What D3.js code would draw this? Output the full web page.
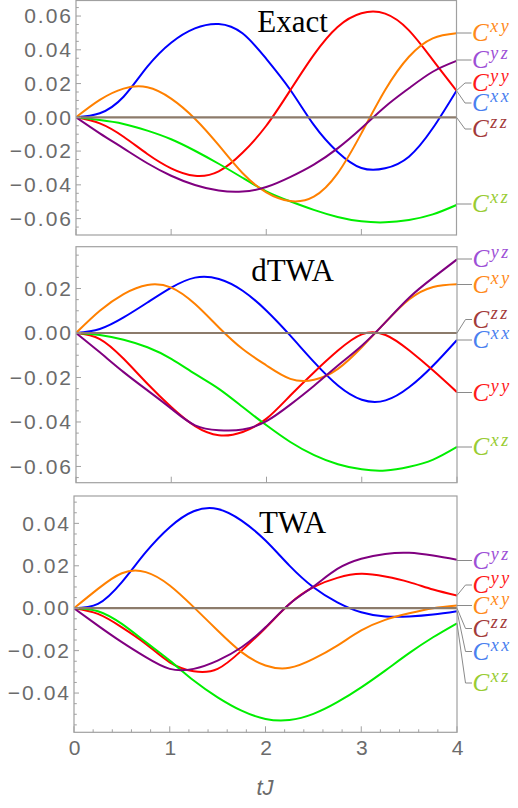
<!DOCTYPE html>
<html><head><meta charset="utf-8">
<script src="https://cdn.jsdelivr.net/npm/d3@7"></script>
<style>html,body{margin:0;padding:0;background:#fff;}svg{display:block;}</style>
</head><body>
<svg id="chart" width="518" height="808"></svg>
<script>
// ---------------- DATA ----------------
const tJ = [0,0.25,0.5,0.75,1,1.25,1.5,1.75,2,2.25,2.5,2.75,3,3.25,3.5,3.75,4];
const xTickLabels = ["0","1","2","3","4"];
const seriesKeys = ["xx","yy","xz","xy","yz","zz"];
const panelTitles = ["Exact","dTWA","TWA"];

// Exact
const exactXX = [0,0.0024,0.0122,0.030,0.0442,0.0527,0.0553,0.0498,0.0347,0.0165,-0.0045,-0.0205,-0.0300,-0.0302,-0.0233,-0.0065,0.0158];
const exactYY = [0,-0.0036,-0.0115,-0.0217,-0.0302,-0.0346,-0.0320,-0.0210,-0.0050,0.0158,0.0370,0.0535,0.0616,0.0614,0.0515,0.034,0.0158];
const exactXY = [0,0.0103,0.0170,0.0178,0.0111,-0.0008,-0.0165,-0.0330,-0.0445,-0.0496,-0.0470,-0.0332,-0.0095,0.0162,0.0359,0.0468,0.0498];
const exactYZ = [0,-0.0095,-0.0184,-0.0272,-0.0346,-0.0401,-0.0434,-0.0440,-0.0413,-0.0354,-0.0280,-0.0184,-0.0065,0.0063,0.0172,0.027,0.0334];
const exactXZ = [0,-0.0016,-0.0039,-0.0079,-0.0130,-0.0198,-0.0275,-0.0358,-0.0438,-0.0497,-0.0548,-0.0590,-0.0616,-0.0622,-0.0608,-0.0575,-0.0519];
const exactZZ = [0,0,0,0,0,0,0,0,0,0,0,0,0,0,0,0,0];

// dTWA
const dtwaXX = [0,0.0018,0.0070,0.0137,0.0204,0.0249,0.0243,0.019,0.010,-0.0012,-0.0131,-0.0236,-0.030,-0.0303,-0.0243,-0.0146,-0.0031];
const dtwaYY = [0,-0.0027,-0.0116,-0.0228,-0.0333,-0.0419,-0.046,-0.0445,-0.0385,-0.0281,-0.0176,-0.0079,-0.0006,-0.0009,-0.0079,-0.0169,-0.0266];
const dtwaXY = [0,0.0100,0.0175,0.0216,0.0204,0.013,0.0025,-0.0072,-0.0146,-0.0206,-0.021,-0.0161,-0.0064,0.0049,0.0152,0.0207,0.0219];
const dtwaYZ = [0,-0.0087,-0.0176,-0.0258,-0.034,-0.0415,-0.0437,-0.0434,-0.0396,-0.0322,-0.0237,-0.0146,-0.0057,0.0049,0.016,0.0249,0.0331];
const dtwaXZ = [0,-0.0009,-0.003,-0.0064,-0.0116,-0.0184,-0.0251,-0.0333,-0.0415,-0.049,-0.0549,-0.059,-0.0613,-0.0618,-0.0601,-0.0569,-0.0512];
const dtwaZZ = [0,0,0,0,0,0,0,0,0,0,0,0,0,0,0,0,0];

// TWA
const twaXX = [0,0.002,0.0123,0.0264,0.0382,0.0457,0.0468,0.0413,0.0319,0.0201,0.0099,0.0028,-0.0019,-0.0039,-0.0039,-0.003,-0.0014];
const twaYY = [0,-0.0027,-0.009,-0.0168,-0.0255,-0.0297,-0.0286,-0.02,-0.0093,0.002,0.0099,0.0143,0.0162,0.0149,0.0123,0.0088,0.006];
const twaXY = [0,0.0091,0.0165,0.017,0.0107,0.0005,-0.0105,-0.0207,-0.027,-0.0281,-0.0239,-0.0176,-0.0105,-0.0055,-0.0024,0,0.0013];
const twaYZ = [0,-0.0082,-0.016,-0.0231,-0.0286,-0.0286,-0.0247,-0.0184,-0.009,0.002,0.0102,0.0185,0.0233,0.0256,0.0261,0.0248,0.0228];
const twaXZ = [0,-0.0014,-0.0074,-0.016,-0.0247,-0.0341,-0.042,-0.0483,-0.0522,-0.0527,-0.0498,-0.0443,-0.0373,-0.0294,-0.0212,-0.0137,-0.0071];
const twaZZ = [0,0,0,0,0,0,0,0,0,0,0,0,0,0,0,0,0];

const yTicksExact = [-0.06,-0.04,-0.02,0,0.02,0.04,0.06];
const yTicksDTWA = [-0.06,-0.04,-0.02,0,0.02];
const yTicksTWA = [-0.04,-0.02,0,0.02,0.04];

// ---------------- STYLE / LAYOUT ----------------
const lineColor = {xx:"#0000ff", yy:"#ff0000", xz:"#00ee00", xy:"#ff8000", yz:"#800080", zz:"#8c7b6b"};
const labelColor = {xx:"#4a7fef", yy:"#ff1a1a", xz:"#99cc33", xy:"#ff8a1a", yz:"#9d4fd6", zz:"#a33a3a"};

const panels = [
  {title:panelTitles[0], data:{xx:exactXX,yy:exactYY,xz:exactXZ,xy:exactXY,yz:exactYZ,zz:exactZZ},
   top:0.5, bottom:235, left:76, right:456.5, yDom:[-0.0697,0.0692], yTicks:yTicksExact, titleY:32, minorX:false,
   labelY:{xy:33,yz:60,yy:83,xx:103,zz:129,xz:204}},
  {title:panelTitles[1], data:{xx:dtwaXX,yy:dtwaYY,xz:dtwaXZ,xy:dtwaXY,yz:dtwaYZ,zz:dtwaZZ},
   top:246.7, bottom:482.7, left:76, right:457, yDom:[-0.0673,0.0388], yTicks:yTicksDTWA, titleY:280.5, minorX:false,
   labelY:{yz:259,xy:284.5,zz:319.5,xx:340,yy:392.5,xz:447}},
  {title:panelTitles[2], data:{xx:twaXX,yy:twaYY,xz:twaXZ,xy:twaXY,yz:twaYZ,zz:twaZZ},
   top:496, bottom:732.3, left:74, right:457, yDom:[-0.0585,0.0529], yTicks:yTicksTWA, titleY:533, minorX:true,
   labelY:{yz:560.5,yy:585,xy:605.5,zz:628.5,xx:651.5,xz:683}}
];

const frameColor = "#a0a0a0";
const tickTextColor = "#6b6b6b";

const svg = d3.select("#chart");

panels.forEach((p, pi) => {
  const x = d3.scaleLinear().domain([0,4]).range([p.left, p.right]);
  const y = d3.scaleLinear().domain(p.yDom).range([p.bottom, p.top]);
  const g = svg.append("g");

  const clipId = "clip" + pi;
  svg.append("clipPath").attr("id", clipId).append("rect")
    .attr("x", p.left).attr("y", p.top).attr("width", p.right - p.left).attr("height", p.bottom - p.top);

  // title
  g.append("text").attr("x", 292.5).attr("y", p.titleY).attr("text-anchor","middle")
    .attr("font-family","'Liberation Serif','Times New Roman',serif").attr("font-size", 31)
    .attr("fill","#000").text(p.title);

  // curves
  const line = d3.line().x((d,i) => x(tJ[i])).y(d => y(d)).curve(d3.curveNatural);
  const cg = g.append("g").attr("clip-path", `url(#${clipId})`);
  seriesKeys.forEach(k => {
    cg.append("path").attr("d", line(p.data[k])).attr("fill","none")
      .attr("stroke", lineColor[k]).attr("stroke-width", k === "zz" ? 2.2 : 2);
  });

  // frame
  g.append("rect").attr("x", p.left).attr("y", p.top).attr("width", p.right - p.left).attr("height", p.bottom - p.top)
    .attr("fill","none").attr("stroke", frameColor).attr("stroke-width", 1.2);

  // y ticks
  const yMinor = d3.range(Math.ceil(p.yDom[0]/0.005)*0.005, p.yDom[1], 0.005);
  yMinor.forEach(v => {
    const isMajor = Math.abs(Math.round(v/0.02)*0.02 - v) < 1e-6;
    const yy = y(v);
    g.append("line").attr("x1", p.left).attr("x2", p.left + (isMajor ? 5 : 2.8))
      .attr("y1", yy).attr("y2", yy).attr("stroke", frameColor).attr("stroke-width", 1);
  });
  const yAxis = d3.axisLeft(y).tickValues(p.yTicks).tickSize(0).tickPadding(5)
    .tickFormat(v => (v < 0 ? "\u2212" : "") + d3.format(".2f")(Math.abs(v)));
  const ya = g.append("g").attr("transform", `translate(${p.left},0)`).call(yAxis);
  ya.select(".domain").remove();
  ya.selectAll("text").attr("font-family","'Liberation Sans',Arial,sans-serif").attr("font-size", 21)
    .attr("fill", tickTextColor).attr("letter-spacing", "2px").attr("dx", "2px");

  // x ticks
  const xMajor = [0,1,2,3,4];
  xMajor.forEach(v => {
    g.append("line").attr("x1", x(v)).attr("x2", x(v)).attr("y1", p.bottom).attr("y2", p.bottom - 6)
      .attr("stroke", frameColor).attr("stroke-width", 1);
  });
  if (p.minorX) {
    d3.range(0, 4.0001, 0.2).forEach(v => {
      if (Math.abs(v - Math.round(v)) < 1e-6) return;
      g.append("line").attr("x1", x(v)).attr("x2", x(v)).attr("y1", p.bottom).attr("y2", p.bottom - 3)
        .attr("stroke", frameColor).attr("stroke-width", 1);
    });
    const xAxis = d3.axisBottom(x).tickValues(xMajor).tickSize(0).tickPadding(8)
      .tickFormat((d,i) => xTickLabels[i]);
    const xa = g.append("g").attr("transform", `translate(0,${p.bottom})`).call(xAxis);
    xa.select(".domain").remove();
    xa.selectAll("text").attr("font-family","'Liberation Sans',Arial,sans-serif").attr("font-size", 21)
      .attr("fill", tickTextColor);
    g.append("text").attr("x", 265).attr("y", 795).attr("text-anchor","middle")
      .attr("font-family","'Liberation Sans',Arial,sans-serif").attr("font-style","italic")
      .attr("font-size", 22).attr("fill", tickTextColor).text("tJ");
  }

  // callout labels
  seriesKeys.forEach(k => {
    const vals = p.data[k];
    const ey = y(vals[vals.length-1]);
    const ly = p.labelY[k];
    const pts = Math.abs(ey - ly) < 1.5
      ? [[p.right, ly],[p.right + 15, ly]]
      : [[p.right, ey],[p.right + 8.5, ly],[p.right + 15, ly]];
    g.append("path").attr("d", d3.line()(pts)).attr("fill","none")
      .attr("stroke","#8a8a8a").attr("stroke-width", 1);
    const lx = p.right + 15.5;
    const t = g.append("text").attr("x", lx).attr("y", ly + 8)
      .attr("font-family","'Liberation Serif','Times New Roman',serif").attr("font-style","italic")
      .attr("fill", labelColor[k]);
    t.append("tspan").attr("font-size", 25).text("C");
    t.append("tspan").attr("font-size", 18).attr("dy", -9).attr("dx", 1.5)
      .attr("letter-spacing","2.5px").text(k);
  });
});
</script>
</body></html>
